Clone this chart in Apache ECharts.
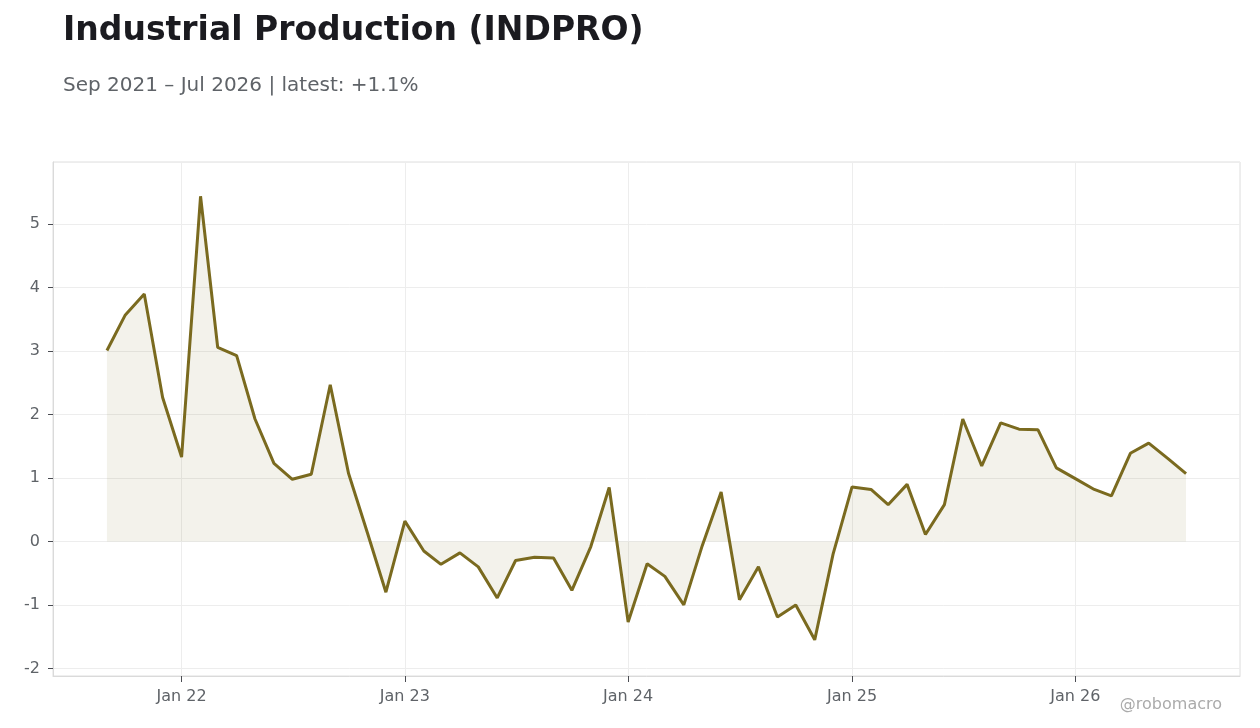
<!DOCTYPE html>
<html>
<head>
<meta charset="utf-8">
<script src="https://cdn.jsdelivr.net/npm/echarts@6/dist/echarts.min.js"></script>
<style>
  html, body { margin: 0; padding: 0; background: #fff; }
  #chart { width: 1260px; height: 728px; }
</style>
</head>
<body>
<div id="chart"></div>
<script>
// monthly observations, year-over-year % change
const months = [
  '2021-09', '2021-10', '2021-11', '2021-12',
  '2022-01', '2022-02', '2022-03', '2022-04', '2022-05', '2022-06',
  '2022-07', '2022-08', '2022-09', '2022-10', '2022-11', '2022-12',
  '2023-01', '2023-02', '2023-03', '2023-04', '2023-05', '2023-06',
  '2023-07', '2023-08', '2023-09', '2023-10', '2023-11', '2023-12',
  '2024-01', '2024-02', '2024-03', '2024-04', '2024-05', '2024-06',
  '2024-07', '2024-08', '2024-09', '2024-10', '2024-11', '2024-12',
  '2025-01', '2025-02', '2025-03', '2025-04', '2025-05', '2025-06',
  '2025-07', '2025-08', '2025-09', '2025-10', '2025-11', '2025-12',
  '2026-01', '2026-02', '2026-03', '2026-04', '2026-05', '2026-06', '2026-07'
];
const yoy = [
  3.01, 3.57, 3.90, 2.27,
  1.33, 5.44, 3.06, 2.93, 1.93, 1.23, 0.98, 1.06, 2.47, 1.07, 0.13, -0.80,
  0.32, -0.15, -0.36, -0.18, -0.40, -0.89, -0.30, -0.25, -0.26, -0.77, -0.08, 0.85,
  -1.27, -0.35, -0.55, -1.00, -0.07, 0.78, -0.92, -0.40, -1.19, -1.00, -1.55, -0.20,
  0.86, 0.82, 0.58, 0.90, 0.11, 0.58, 1.93, 1.19, 1.87, 1.77, 1.76, 1.16,
  0.99, 0.82, 0.72, 1.39, 1.55, 1.31, 1.07
];
const title = 'Industrial Production (INDPRO)';
const subtitle = 'Sep 2021 \u2013 Jul 2026 | latest: +1.1%';
const credit = '@robomacro';

const lineColor = '#7a6a1f';
const textGray = '#5f6368';
const MONTH_NAMES = ['Jan', 'Feb', 'Mar', 'Apr', 'May', 'Jun', 'Jul', 'Aug', 'Sep', 'Oct', 'Nov', 'Dec'];
const FONT = '"DejaVu Sans", sans-serif';

function toTime(s) {
  const [y, m] = s.split('-').map(Number);
  return Date.UTC(y, m - 1, 1);
}

const times = months.map(toTime);
const points = times.map((t, i) => [t, yoy[i]]);
const span = times[times.length - 1] - times[0];
const xMin = times[0] - span * 0.05;
const xMax = times[times.length - 1] + span * 0.05;

const chart = echarts.init(document.getElementById('chart'));

chart.setOption({
  useUTC: true,
  animation: false,
  backgroundColor: '#ffffff',
  title: [{
    text: title,
    left: 58,
    top: 10,
    textStyle: { fontFamily: FONT, fontSize: 33, fontWeight: 'bold', color: '#1b1b20' }
  }, {
    text: subtitle,
    left: 58,
    top: 71,
    textStyle: { fontFamily: FONT, fontSize: 20, fontWeight: 'normal', color: textGray }
  }],
  grid: {
    left: 53,
    right: 20,
    top: 162,
    bottom: 52,
    show: true,
    borderColor: '#dedede',
    borderWidth: 1,
    containLabel: false
  },
  xAxis: {
    type: 'time',
    min: xMin,
    max: xMax,
    splitNumber: 5,
    axisLine: { show: true, onZero: false, lineStyle: { color: '#dadada', width: 1 } },
    axisTick: { show: true, length: 6, lineStyle: { color: '#4a4c52', width: 1 } },
    splitLine: { show: true, lineStyle: { color: '#ededed', width: 1 } },
    axisLabel: {
      showMinLabel: false,
      showMaxLabel: false,
      color: textGray,
      fontFamily: FONT,
      fontSize: 16,
      margin: 13,
      formatter: function (value) {
        const d = new Date(value);
        return MONTH_NAMES[d.getUTCMonth()] + ' ' + String(d.getUTCFullYear()).slice(2);
      }
    }
  },
  yAxis: {
    type: 'value',
    min: -2.12,
    max: 5.98,
    splitNumber: 8,
    minInterval: 1,
    maxInterval: 1,
    axisLine: { show: true, onZero: false, lineStyle: { color: '#dadada', width: 1 } },
    axisTick: { show: true, length: 5, lineStyle: { color: '#4a4c52', width: 1 } },
    splitLine: { show: true, lineStyle: { color: '#ededed', width: 1 } },
    axisLabel: {
      showMinLabel: false,
      showMaxLabel: false,
      color: textGray,
      fontFamily: FONT,
      fontSize: 16,
      margin: 13
    }
  },
  series: [{
    type: 'line',
    data: points,
    showSymbol: false,
    symbol: 'none',
    lineStyle: { color: lineColor, width: 3 },
    itemStyle: { color: lineColor },
    areaStyle: { color: lineColor, opacity: 0.09, origin: 0 },
    z: 3
  }],
  graphic: [{
    type: 'text',
    right: 38,
    top: 697,
    style: {
      text: credit,
      fill: '#ababab',
      font: '16px "DejaVu Sans"'
    }
  }]
});
</script>
</body>
</html>
